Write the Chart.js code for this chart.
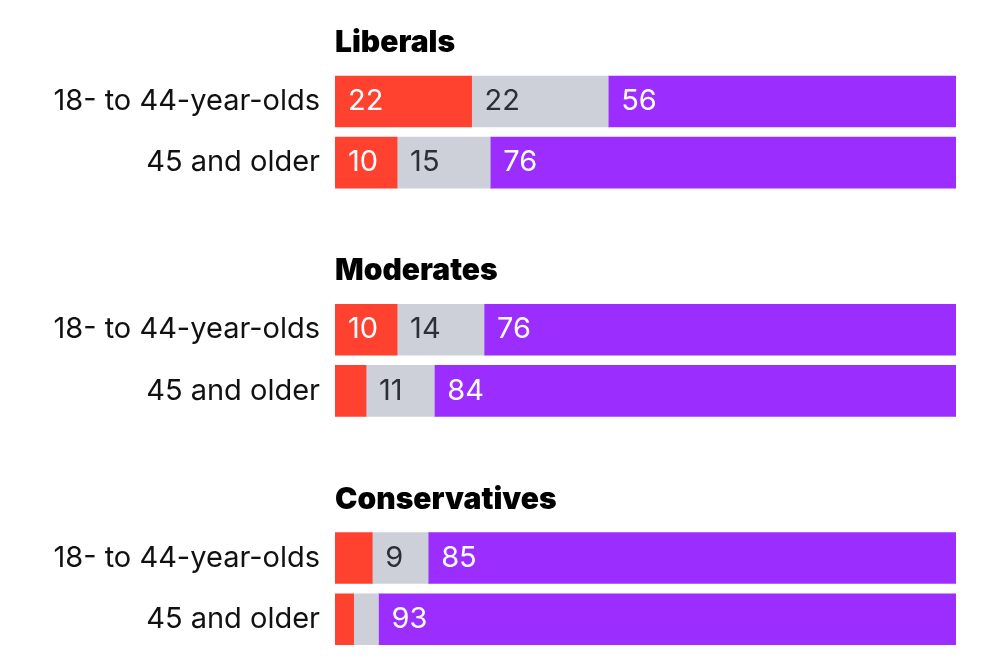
<!DOCTYPE html>
<html><head><meta charset="utf-8">
<script src="https://cdn.jsdelivr.net/npm/chart.js@4/dist/chart.umd.min.js"></script>
<style>html,body{margin:0;padding:0;background:#fff}#wrap{width:1000px;height:670px;position:relative}</style>
</head><body><div id="wrap"><canvas id="c"></canvas></div>
<script>
const groups = ['Liberals', 'Moderates', 'Conservatives'];
const ageLabels = ['18- to 44-year-olds', '45 and older'];
const seriesNames = ['Share A', 'Share B', 'Share C'];
const redValues = [22, 10, 10, 5, 6, 3];
const grayValues = [22, 15, 14, 11, 9, 4];
const purpleValues = [56, 76, 76, 84, 85, 93];

const COLORS = ['#FF4130', '#CDD0D8', '#9B2DFE'];
const TEXT_COLORS = ['#ffffff', '#2b2f36', '#ffffff'];
const FONT = 'Inter, "Noto Sans", sans-serif';
const GROUP_STEP = 3.73;
const TITLE_OFFSET = -0.955;
const LABEL_MIN = 8;

const rowPos = [];
const rowLabel = [];
groups.forEach((g, gi) => ageLabels.forEach((a, ri) => { rowPos.push(gi * GROUP_STEP + ri); rowLabel.push(a); }));

const seriesValues = [redValues, grayValues, purpleValues];
const datasets = seriesValues.map((vals, si) => ({
  label: seriesNames[si],
  data: vals.map((v, i) => ({ x: v, y: rowPos[i] })),
  backgroundColor: COLORS[si],
  borderWidth: 0,
  barThickness: 51,
  clip: 0
}));

const overlay = {
  id: 'overlay',
  afterDatasetsDraw(chart) {
    const ctx = chart.ctx;
    const ys = chart.scales.y;
    ctx.save();
    chart.data.datasets.forEach((ds, si) => {
      const meta = chart.getDatasetMeta(si);
      meta.data.forEach((el, i) => {
        const v = seriesValues[si][i];
        if (v < LABEL_MIN) return;
        ctx.font = '400 29px ' + FONT;
        ctx.fillStyle = TEXT_COLORS[si];
        ctx.textAlign = 'left';
        ctx.textBaseline = 'middle';
        ctx.fillText(String(v), el.base + 13, el.y);
      });
    });
    groups.forEach((g, gi) => {
      ctx.font = '900 30px ' + FONT;
      ctx.fillStyle = '#000';
      ctx.textAlign = 'left';
      ctx.textBaseline = 'middle';
      ctx.fillText(g, chart.chartArea.left, ys.getPixelForValue(gi * GROUP_STEP + TITLE_OFFSET));
    });
    ctx.restore();
  }
};

new Chart(document.getElementById('c'), {
  type: 'bar',
  data: { datasets },
  options: {
    indexAxis: 'y',
    responsive: true,
    maintainAspectRatio: false,
    animation: false,
    layout: { padding: { left: 0, right: 44, top: 0, bottom: 0 } },
    plugins: { legend: { display: false }, tooltip: { enabled: false } },
    scales: {
      x: { type: 'linear', stacked: true, min: 0, max: 100, display: false, offset: false },
      y: {
        type: 'linear', stacked: true, reverse: true, min: -1.658, max: 9.29, offset: false,
        grid: { display: false, drawTicks: false, offset: false },
        border: { display: false },
        afterBuildTicks(scale) { scale.ticks = rowPos.map(v => ({ value: v })); },
        afterFit(scale) { scale.width = 335; scale.paddingTop = 0; scale.paddingBottom = 0; },
        ticks: {
          padding: 15,
          color: '#111',
          font: { family: FONT, size: 29 },
          callback(value) { const i = rowPos.indexOf(value); return i >= 0 ? rowLabel[i] : ''; }
        }
      }
    }
  },
  plugins: [overlay]
});
</script></body></html>
